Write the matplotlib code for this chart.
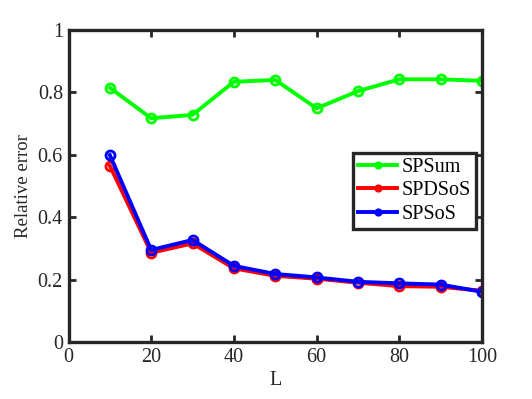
import matplotlib
matplotlib.use("Agg")
import matplotlib.pyplot as plt

L = [10, 20, 30, 40, 50, 60, 70, 80, 90, 100]
spsum = [0.815, 0.717, 0.728, 0.834, 0.840, 0.749, 0.804, 0.842, 0.842, 0.837]
spdsos = [0.565, 0.286, 0.316, 0.236, 0.212, 0.203, 0.190, 0.179, 0.177, 0.164]
spsos = [0.599, 0.295, 0.327, 0.244, 0.218, 0.207, 0.193, 0.188, 0.184, 0.161]
xticks = [0, 20, 40, 60, 80, 100]
yticks = [0, 0.2, 0.4, 0.6, 0.8, 1]
ytick_labels = ["0", "0.2", "0.4", "0.6", "0.8", "1"]

plt.rcParams['font.family'] = ['Liberation Serif', 'DejaVu Serif']

fig = plt.figure(figsize=(5.32, 3.99), dpi=100)
ax = fig.add_axes([68.5/532, (399-342)/399, (482-68.5)/532, (342-30)/399])

kw = dict(lw=2.8, marker='o', ms=6.5, mfc='none', mew=2.0)
ax.plot(L, spsum, color='#00ff00', label='SPSum', **kw)
ax.plot(L, spdsos, color='#ff0000', label='SPDSoS', **kw)
ax.plot(L, spsos, color='#0000ff', label='SPSoS', **kw)

ax.set_xlim(0, 100)
ax.set_ylim(0, 1)
ax.set_xticks(xticks)
ax.set_yticks(yticks)
ax.set_yticklabels(ytick_labels)
ax.tick_params(direction='in', length=5, width=2, top=True, right=True,
               labelsize=14.5, colors='#262626', pad=4)
for s in ax.spines.values():
    s.set_linewidth(2.4)
    s.set_color('#262626')

ax.set_xlabel('L', fontsize=14.5, color='#262626', labelpad=3)
ax.set_ylabel('Relative error', fontsize=13.5, color='#262626', labelpad=4)

leg = ax.legend(loc='upper right', bbox_to_anchor=(0.985, 0.605), fontsize=14.5,
                fancybox=False, framealpha=1, edgecolor='#262626',
                handlelength=1.95, handletextpad=0.2, borderpad=0.25,
                labelspacing=0.2, borderaxespad=0.0, markerscale=0.6)
leg.get_frame().set_linewidth(2.4)

fig.savefig('out.png', dpi=100)
